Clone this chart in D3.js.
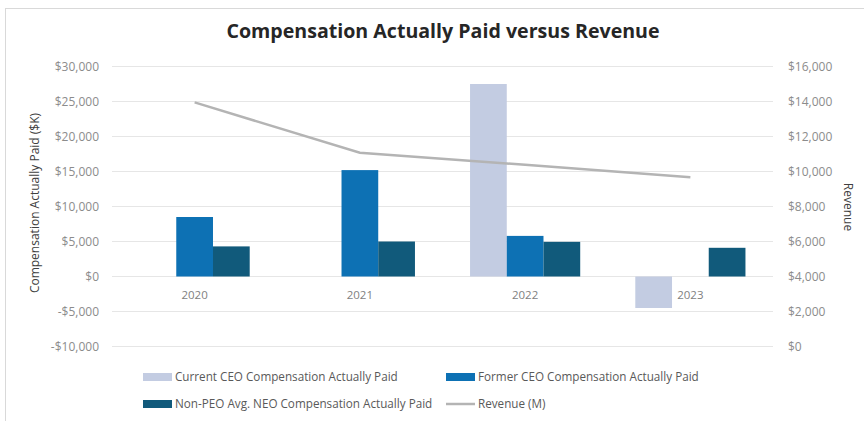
<!DOCTYPE html>
<html>
<head>
<meta charset="utf-8">
<script src="https://cdn.jsdelivr.net/npm/d3@7"></script>
<style>
  body { margin: 0; background: #fff; }
  text { font-family: "Open Sans", sans-serif; }
</style>
</head>
<body>
<script>
// chart data
let years = ["2020", "2021", "2022", "2023"];
let seriesNames = ["Current CEO Compensation Actually Paid", "Former CEO Compensation Actually Paid", "Non-PEO Avg. NEO Compensation Actually Paid"];
let currentCeo = [0, 0, 27500, -4500];
let formerCeo = [8500, 15200, 5800, 0];
let nonPeo = [4300, 5000, 4950, 4100];
let revenue = [13950, 11070, 10380, 9670];
let leftTicks = [-10000, -5000, 0, 5000, 10000, 15000, 20000, 25000, 30000];
let rightTicks = [0, 2000, 4000, 6000, 8000, 10000, 12000, 14000, 16000];

let colors = ["#c3cce2", "#0d71b4", "#115a7b"];
let lineColor = "#b4b4b4";

let width = 864,
    height = 421;

let svg = d3.select("body").append("svg")
    .attr("width", width)
    .attr("height", height);

// outer frame
svg.append("rect")
    .attr("x", 5.5).attr("y", 8.5)
    .attr("width", width - 4).attr("height", height)
    .attr("fill", "none")
    .attr("stroke", "#d9d9d9");

let plotLeft = 112, plotRight = 773, plotTop = 66.5, plotBottom = 346.5;

let x0 = d3.scaleBand().domain(years).range([plotLeft, plotRight]);
let gap = x0.bandwidth() / 3;
let x1 = d3.scaleBand().domain(d3.range(3)).range([gap / 2, x0.bandwidth() - gap / 2]);
let yL = d3.scaleLinear().domain([-10000, 30000]).range([plotBottom, plotTop]);
let yR = d3.scaleLinear().domain([0, 16000]).range([plotBottom, plotTop]);

let fmt = d => (d < 0 ? "-$" : "$") + d3.format(",")(Math.abs(d));

// gridlines
svg.append("g").selectAll("line")
    .data(leftTicks)
    .enter().append("line")
    .attr("x1", plotLeft).attr("x2", plotRight)
    .attr("y1", d => yL(d)).attr("y2", d => yL(d))
    .attr("stroke", "#e6e6e6")
    .attr("stroke-width", 1);

// left tick labels
svg.append("g").selectAll("text")
    .data(leftTicks)
    .enter().append("text")
    .attr("x", 99).attr("y", d => yL(d))
    .attr("dy", "0.35em")
    .attr("text-anchor", "end")
    .attr("font-size", 12)
    .attr("fill", "#8c8c8c")
    .text(fmt);

// right tick labels
svg.append("g").selectAll("text")
    .data(rightTicks)
    .enter().append("text")
    .attr("x", 788).attr("y", d => yR(d))
    .attr("dy", "0.35em")
    .attr("font-size", 12)
    .attr("fill", "#8c8c8c")
    .text(fmt);

// bars
let rows = years.map((yr, i) => ({year: yr, vals: [currentCeo[i], formerCeo[i], nonPeo[i]]}));

let groups = svg.append("g").selectAll("g")
    .data(rows)
    .enter().append("g")
    .attr("transform", d => "translate(" + x0(d.year) + ",0)");

groups.selectAll("rect")
    .data(d => d.vals)
    .enter().append("rect")
    .attr("x", (d, i) => x1(i))
    .attr("width", x1.bandwidth())
    .attr("y", d => yL(Math.max(0, d)))
    .attr("height", d => Math.abs(yL(d) - yL(0)))
    .attr("fill", (d, i) => colors[i]);

// category labels
svg.append("g").selectAll("text")
    .data(years)
    .enter().append("text")
    .attr("x", d => x0(d) + x0.bandwidth() / 2)
    .attr("y", yL(0) + 22)
    .attr("text-anchor", "middle")
    .attr("font-size", 11.5)
    .attr("fill", "#7f7f7f")
    .text(d => d);

// revenue line
let line = d3.line()
    .x((d, i) => x0(years[i]) + x0.bandwidth() / 2)
    .y(d => yR(d));

svg.append("path")
    .datum(revenue)
    .attr("d", line)
    .attr("fill", "none")
    .attr("stroke", lineColor)
    .attr("stroke-width", 2.5);

// title
svg.append("text")
    .attr("x", 443).attr("y", 38)
    .attr("text-anchor", "middle")
    .attr("font-size", 19.6)
    .attr("font-weight", "bold")
    .attr("fill", "#262626")
    .text("Compensation Actually Paid versus Revenue");

// axis titles
svg.append("text")
    .attr("transform", "translate(39,203) rotate(-90)")
    .attr("text-anchor", "middle")
    .attr("font-size", 12)
    .attr("fill", "#404040")
    .text("Compensation Actually Paid ($K)");

svg.append("text")
    .attr("transform", "translate(844,207) rotate(90)")
    .attr("text-anchor", "middle")
    .attr("font-size", 12)
    .attr("fill", "#404040")
    .text("Revenue");

// legend
let legendItems = [
    {name: seriesNames[0], color: colors[0], type: "bar", x: 143, y: 377},
    {name: seriesNames[1], color: colors[1], type: "bar", x: 446, y: 377},
    {name: seriesNames[2], color: colors[2], type: "bar", x: 143, y: 404},
    {name: "Revenue (M)", color: lineColor, type: "line", x: 446, y: 404}
];

let legend = svg.append("g").selectAll("g")
    .data(legendItems)
    .enter().append("g")
    .attr("transform", d => "translate(" + d.x + "," + d.y + ")");

legend.filter(d => d.type == "bar").append("rect")
    .attr("x", 0).attr("y", -4)
    .attr("width", 29).attr("height", 8)
    .attr("fill", d => d.color);

legend.filter(d => d.type == "line").append("line")
    .attr("x1", 0).attr("x2", 29)
    .attr("stroke", d => d.color)
    .attr("stroke-width", 2.5);

legend.append("text")
    .attr("x", 32).attr("dy", "0.35em")
    .attr("font-size", 11.7)
    .attr("fill", "#595959")
    .text(d => d.name);
</script>
</body>
</html>
